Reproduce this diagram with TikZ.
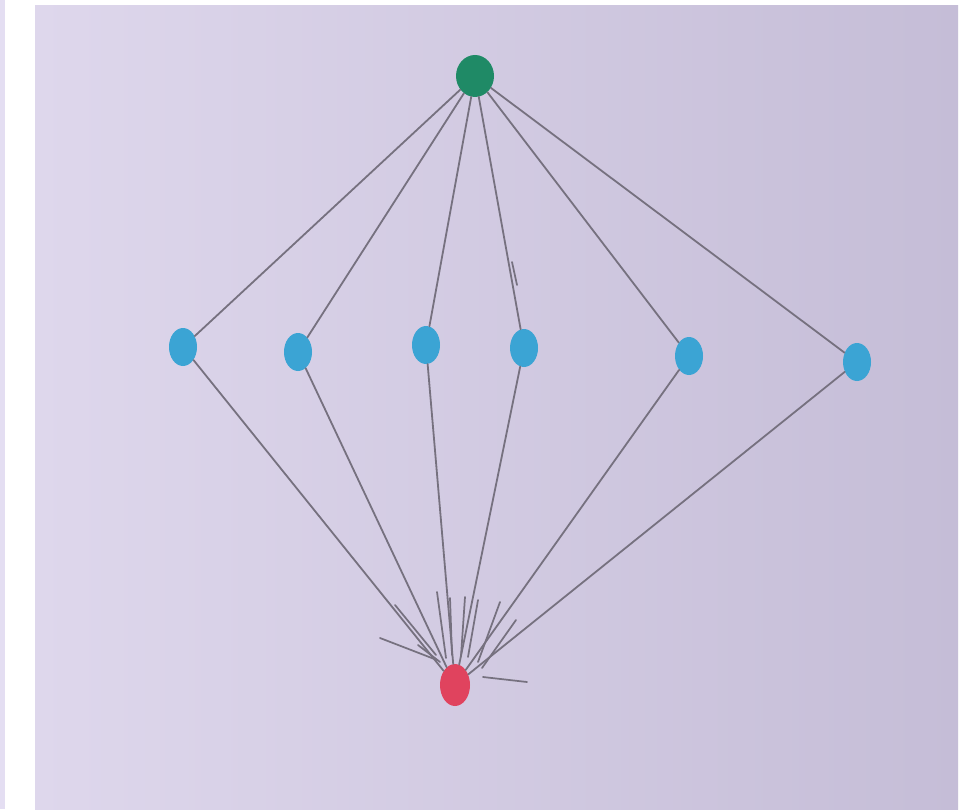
\documentclass[tikz,border=0pt]{standalone}
\usetikzlibrary{shapes.geometric}
\definecolor{bgl}{HTML}{DED7EC}
\definecolor{bgr}{HTML}{C5BDD7}
\definecolor{strip}{HTML}{E4DEF2}
\definecolor{greenn}{HTML}{1F8A66}
\definecolor{bluen}{HTML}{3BA4D4}
\definecolor{redn}{HTML}{E0435E}
\definecolor{pencil}{HTML}{76717F}
\tikzset{
  dot/.style={ellipse, inner sep=0pt, draw=none},
  gdot/.style={dot, fill=greenn, minimum width=38pt*0.75, minimum height=42pt*0.75},
  bdot/.style={dot, fill=bluen, minimum width=28pt*0.75, minimum height=38pt*0.75},
  rdot/.style={dot, fill=redn, minimum width=30pt*0.75, minimum height=42pt*0.75},
  edge/.style={draw=pencil, line width=1.35pt, line cap=round},
  spike/.style={draw=pencil, line width=1.3pt, line cap=round}
}
\begin{document}
\begin{tikzpicture}[x=0.75pt, y=-0.75pt]
\useasboundingbox (0,0) rectangle (969,809);
\fill[white] (0,0) rectangle (969,809);
\fill[strip] (0,0) rectangle (5,809);
\shade[left color=bgl, right color=bgr] (35,6) rectangle (958,809);

\node[gdot] (g) at (475,76) {};
\node[bdot] (b1) at (183,347) {};
\node[bdot] (b2) at (298,352) {};
\node[bdot] (b3) at (426,345) {};
\node[bdot] (b4) at (524,348) {};
\node[bdot] (b5) at (689,356) {};
\node[bdot] (b6) at (857,362) {};
\node[rdot] (r) at (455,685) {};

\foreach \b in {b1,b2,b3,b4,b5,b6}{
  \draw[edge] (g) -- (\b);
  \draw[edge] (\b) -- (r);
}

% hand-drawn strokes fanning around the red dot
\draw[spike] (380,638) -- (437,660);
\draw[spike] (395,605) -- (436,655);
\draw[spike] (437,592) -- (446,658);
\draw[spike] (450,598) -- (452,655);
\draw[spike] (465,597) -- (461,656);
\draw[spike] (478,600) -- (468,657);
\draw[spike] (500,602) -- (478,662);
\draw[spike] (516,620) -- (482,668);
\draw[spike] (483,677) -- (527,682);
\draw[spike] (418,645) -- (440,662);
% small mark on the edge to the fourth dot
\draw[spike] (512,262) -- (517,285);
\end{tikzpicture}
\end{document}
